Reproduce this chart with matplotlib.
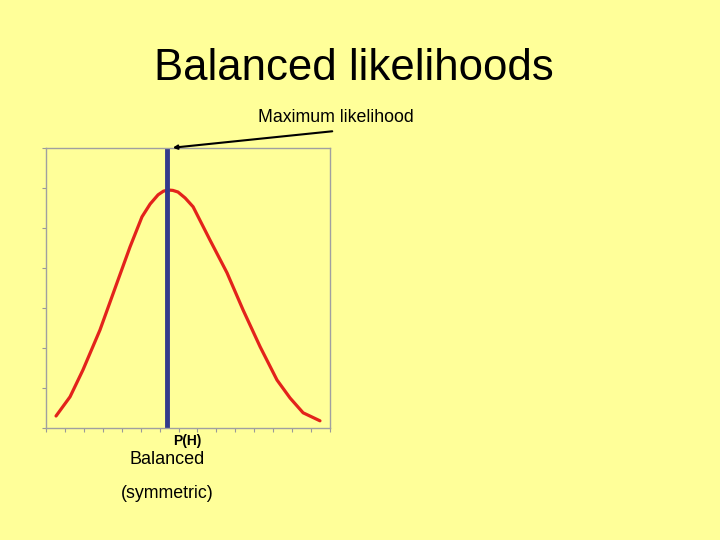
import matplotlib.pyplot as plt

# likelihood curve (x in tick units, y in tick units)
curve_x = [0.53, 1.27, 1.95, 2.85, 3.75, 4.44, 5.07, 5.50, 5.92, 6.20, 6.44, 6.70,
           6.97, 7.35, 7.77, 8.66, 9.56, 10.41, 11.31, 12.20, 12.89, 13.58, 14.47]
curve_y = [0.30, 0.78, 1.45, 2.45, 3.63, 4.53, 5.28, 5.60, 5.83, 5.92, 5.95, 5.94,
           5.90, 5.75, 5.53, 4.70, 3.88, 2.95, 2.03, 1.20, 0.75, 0.38, 0.18]
max_x = 6.4

bg = '#FFFF99'
plt.rcParams['font.family'] = ['Liberation Sans', 'DejaVu Sans']

fig = plt.figure(figsize=(7.2, 5.4), dpi=100, facecolor=bg)
ax = fig.add_axes([46 / 720, 112 / 540, 284 / 720, 280 / 540], facecolor=bg)

ax.plot(curve_x, curve_y, color='#E3231B', lw=2.3, solid_capstyle='round', solid_joinstyle='round')
ax.plot([max_x, max_x], [0, 7], color='#333A8C', lw=3.5)

ax.set_xlim(0, 15)
ax.set_ylim(0, 7)
ax.set_xticks(range(16))
ax.set_yticks(range(8))
ax.set_xticklabels([])
ax.set_yticklabels([])
ax.tick_params(direction='out', length=3, color='#999999', width=0.8)
for s in ax.spines.values():
    s.set_color('#A0A0A0')
    s.set_linewidth(1)

fig.text(354 / 720, 1 - 68 / 540, 'Balanced likelihoods', ha='center', va='center', fontsize=31.5)
fig.text(336 / 720, 1 - 117 / 540, 'Maximum likelihood', ha='center', va='center', fontsize=12.8)
ax.annotate('', xy=(6.55, 7.0), xycoords='data', xytext=(335, 409), textcoords='figure pixels',
            arrowprops=dict(arrowstyle='->', color='black', lw=1.5, mutation_scale=6),
            annotation_clip=False)
fig.text(187 / 720, 1 - 441 / 540, 'P(H)', ha='center', va='center', fontsize=10,
         fontweight='bold')
fig.text(167 / 720, 1 - 459 / 540, 'Balanced', ha='center', va='center', fontsize=13)
fig.text(167 / 720, 1 - 493 / 540, '(symmetric)', ha='center', va='center', fontsize=12.8)

fig.savefig('out.png', dpi=100, facecolor=bg)
